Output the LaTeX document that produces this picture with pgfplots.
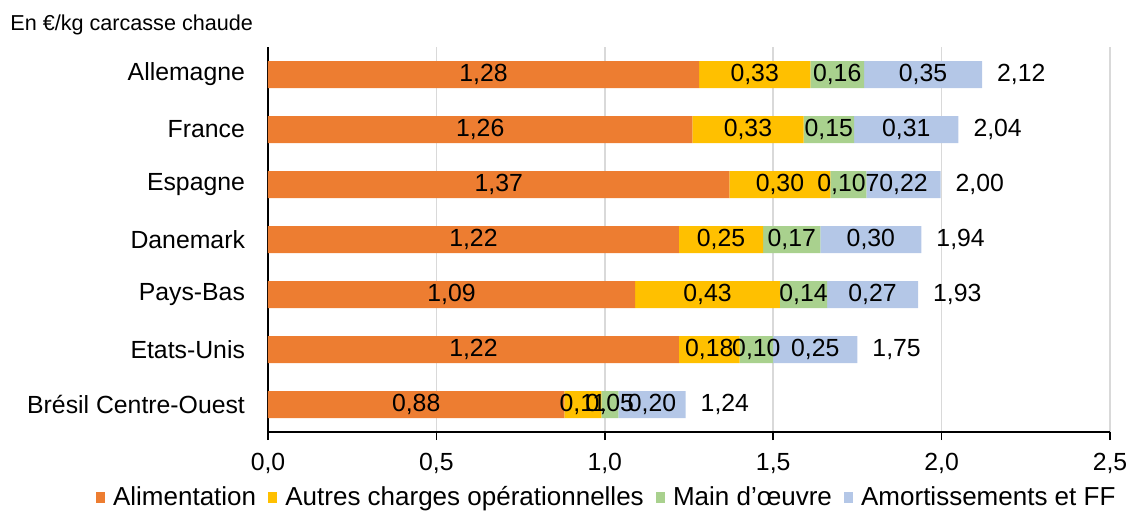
\documentclass[border=0pt]{standalone}
\usepackage{fontspec}
\setmainfont{Liberation Sans}
\usepackage{pgfplots}
\pgfplotsset{compat=1.18}
\definecolor{alim}{HTML}{ED7D31}
\definecolor{autres}{HTML}{FFC000}
\definecolor{mainoe}{HTML}{A9D18E}
\definecolor{amort}{HTML}{B4C7E7}
\newcommand{\lbl}{\fontsize{12.4}{14}\selectfont}
% one segment of the stacked bar, label in the middle of the segment
\pgfplotsset{
  seg/.style={
    fill=#1, draw=none,
    point meta=explicit symbolic,
    nodes near coords,
    every node near coord/.style={anchor=center, font=\lbl, text=black},
    legend image code/.code={\fill[fill=#1] (0pt,-2.8pt) rectangle (4.6pt,2.8pt);}
  }
}
\begin{document}
\begin{tikzpicture}
\useasboundingbox (-134pt,-41pt) rectangle (430.5pt,216pt);
\begin{axis}[
    scale only axis,
    width=421pt, height=192.5pt,
    xbar stacked,
    bar width=13.5pt,
    xmin=0, xmax=2.5,
    ymin=-0.5, ymax=6.5,
    clip=false,
    axis x line*=bottom, axis y line*=left,
    axis line style={black, line width=0.8pt, -},
    xtick={0,0.5,1,1.5,2,2.5},
    xticklabel style={font=\lbl, yshift=-3pt},
    /pgf/number format/.cd, use comma, fixed, fixed zerofill, precision=1, assume math mode=true,
    /pgfplots/.cd,
    tick align=outside,
    major tick length=4pt,
    xtick style={black, line width=0.8pt},
    ytick={0,...,6},
    yticklabels={Brésil Centre-Ouest, Etats-Unis, Pays-Bas, Danemark, Espagne, France, Allemagne},
    yticklabel style={font=\lbl, xshift=-4pt},
    ytick style={draw=none},
    xmajorgrids,
    major grid style={black!15, line width=0.8pt},
    legend style={at={(-0.212,-0.171)}, anchor=west, draw=none, fill=none,
      legend columns=-1, font=\fontsize{13}{15}\selectfont,
      /tikz/every odd column/.append style={column sep=2pt},
      /tikz/every even column/.append style={column sep=4pt}},
]
\addplot[seg=alim] coordinates {
  (1.28,6) [1,28] (1.26,5) [1,26] (1.37,4) [1,37] (1.22,3) [1,22]
  (1.09,2) [1,09] (1.22,1) [1,22] (0.88,0) [0,88]
};
\addplot[seg=autres] coordinates {
  (0.33,6) [0,33] (0.33,5) [0,33] (0.30,4) [0,30] (0.25,3) [0,25]
  (0.43,2) [0,43] (0.18,1) [0,18] (0.11,0) [0,11]
};
\addplot[seg=mainoe] coordinates {
  (0.16,6) [0,16] (0.15,5) [0,15] (0.107,4) [0,107] (0.17,3) [0,17]
  (0.14,2) [0,14] (0.10,1) [0,10] (0.05,0) [0,05]
};
\addplot[seg=amort] coordinates {
  (0.35,6) [0,35] (0.31,5) [0,31] (0.22,4) [0,22] (0.30,3) [0,30]
  (0.27,2) [0,27] (0.25,1) [0,25] (0.20,0) [0,20]
};
% totals, written right of each bar
\addplot[draw=none, fill=none, point meta=explicit symbolic, nodes near coords,
  every node near coord/.style={anchor=west, xshift=4pt, font=\lbl, text=black}]
  coordinates {
  (0.0001,6) [2,12] (0.0001,5) [2,04] (0.0001,4) [2,00] (0.0001,3) [1,94]
  (0.0001,2) [1,93] (0.0001,1) [1,75] (0.0001,0) [1,24]
};
\legend{Alimentation, Autres charges opérationnelles, Main d'\oe uvre, Amortissements et FF}
\end{axis}
\node[anchor=west, font=\fontsize{10.8}{12}\selectfont, inner sep=0pt] at (-129pt,203.5pt) {En €/kg carcasse chaude};
\end{tikzpicture}
\end{document}
